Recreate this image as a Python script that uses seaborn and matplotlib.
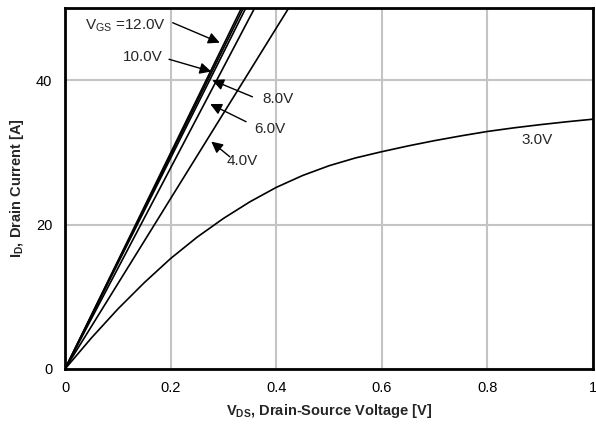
import matplotlib
matplotlib.use("Agg")
import matplotlib.pyplot as plt
import seaborn as sns
import pandas as pd

# ---- data ----
vgs_labels = ["12.0V", "10.0V", "8.0V", "6.0V", "4.0V", "3.0V"]
vds_lin = [0.0, 0.25, 0.5]
id_12 = [0.0, 37.4, 74.8]
id_10 = [0.0, 37.0, 74.0]
id_8 = [0.0, 36.5, 73.0]
id_6 = [0.0, 34.8, 69.6]
id_4 = [0.0, 29.5, 59.0]
vds_3 = [0.0, 0.05, 0.1, 0.15, 0.2, 0.25, 0.3, 0.35, 0.4, 0.45, 0.5,
         0.55, 0.6, 0.65, 0.7, 0.75, 0.8, 0.85, 0.9, 0.95, 1.0]
id_3 = [0.0, 4.3, 8.3, 11.95, 15.3, 18.25, 20.85, 23.15, 25.15, 26.8, 28.15,
        29.23, 30.1, 30.9, 31.63, 32.29, 32.9, 33.4, 33.84, 34.24, 34.6]

x_ticks = [0, 0.2, 0.4, 0.6, 0.8, 1.0]
x_ticklabels = ["0", "0.2", "0.4", "0.6", "0.8", "1"]
y_ticks = [0, 20, 40]
y_ticklabels = ["0", "20", "40"]

# ---- figure ----
sns.set_style("white")
plt.rcParams["font.family"] = ["Liberation Sans", "DejaVu Sans"]
plt.rcParams["mathtext.fontset"] = "custom"
plt.rcParams["mathtext.rm"] = "Liberation Sans"
plt.rcParams["mathtext.it"] = "Liberation Sans"
plt.rcParams["mathtext.bf"] = "Liberation Sans:bold"

rows = []
series = [(vgs_labels[0], vds_lin, id_12), (vgs_labels[1], vds_lin, id_10),
          (vgs_labels[2], vds_lin, id_8), (vgs_labels[3], vds_lin, id_6),
          (vgs_labels[4], vds_lin, id_4), (vgs_labels[5], vds_3, id_3)]
for lab, xs, ys in series:
    for xv, yv in zip(xs, ys):
        rows.append({"vgs": lab, "vds": xv, "id": yv})
df = pd.DataFrame(rows)

fig = plt.figure(figsize=(5.96, 4.26), dpi=100)
ax = fig.add_axes([65 / 596, 1 - 369 / 426, (593 - 65) / 596, (369 - 8) / 426])

sns.lineplot(data=df, x="vds", y="id", hue="vgs", palette=["black"] * 6,
             estimator=None, sort=False, legend=False, lw=1.2, ax=ax)

ax.set_xlim(0, 1)
ax.set_ylim(0, 50)
ax.set_xticks(x_ticks)
ax.set_xticklabels(x_ticklabels)
ax.set_yticks(y_ticks)
ax.set_yticklabels(y_ticklabels)
ax.set_xticks([0.1, 0.3, 0.5, 0.7, 0.9], minor=True)
ax.set_yticks([10, 30], minor=True)
ax.tick_params(which="both", direction="in", labelsize=10.5, colors="black")
ax.tick_params(which="major", length=0, pad=9)
ax.tick_params(which="minor", length=4, width=1.2)
ax.grid(True, which="major", color="#c4c4c4", lw=1.5)
ax.set_axisbelow(True)
for s in ax.spines.values():
    s.set_linewidth(2)
    s.set_color("black")

ax.set_xlabel(r"$\mathbf{V_{DS}}$, Drain-Source Voltage [V]", fontsize=10.5,
              fontweight="bold", labelpad=5)
ax.set_ylabel(r"$\mathbf{I_{D}}$, Drain Current [A]", fontsize=10.5,
              fontweight="bold", labelpad=7)

ap = dict(arrowstyle="-|>", color="black", lw=1.0, mutation_scale=17,
          shrinkA=0, shrinkB=0)
fs = 11
# arrows (tail -> tip)
ax.annotate("", xy=(0.293, 45.2), xytext=(0.204, 47.96), arrowprops=ap)
ax.annotate("", xy=(0.277, 41.2), xytext=(0.197, 42.9), arrowprops=ap)
ax.annotate("", xy=(0.279, 40.0), xytext=(0.355, 37.7), arrowprops=ap)
ax.annotate("", xy=(0.275, 36.7), xytext=(0.343, 34.25), arrowprops=ap)
ax.annotate("", xy=(0.277, 31.5), xytext=(0.312, 29.4), arrowprops=ap)
# labels
ax.text(0.192, 47.6, r"V$_{GS}$ =12.0V", ha="right", va="center", fontsize=fs)
ax.text(0.184, 43.25, "10.0V", ha="right", va="center", fontsize=fs)
ax.text(0.374, 37.4, "8.0V", ha="left", va="center", fontsize=fs)
ax.text(0.359, 33.2, "6.0V", ha="left", va="center", fontsize=fs)
ax.text(0.306, 28.85, "4.0V", ha="left", va="center", fontsize=fs)
ax.text(0.864, 31.7, "3.0V", ha="left", va="center", fontsize=fs)

fig.savefig("out.png", dpi=100)
